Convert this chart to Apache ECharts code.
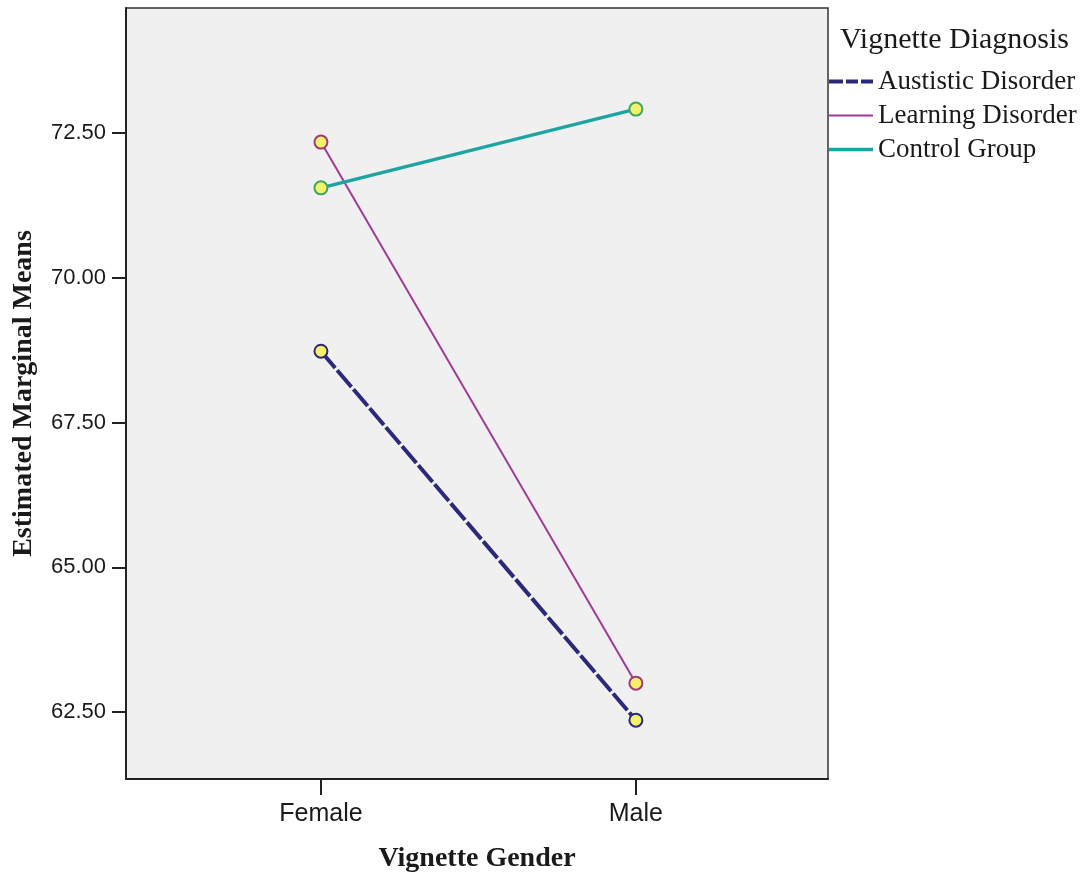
<!DOCTYPE html>
<html>
<head>
<meta charset="utf-8">
<script src="https://cdn.jsdelivr.net/npm/echarts@6/dist/echarts.min.js"></script>
<style>
html,body{margin:0;padding:0;background:#fff;}
#chart{width:1086px;height:878px;}
</style>
</head>
<body>
<div id="chart"></div>
<script>
const categories = ['Female', 'Male'];
const seriesNames = ['Austistic Disorder', 'Learning Disorder', 'Control Group'];
const autisticValues = [68.73, 62.36];
const learningValues = [72.34, 63.00];
const controlValues = [71.55, 72.91];
const yTickValues = [62.5, 65.0, 67.5, 70.0, 72.5];

const toPoints = vals => vals.map((v, i) => [i + 1, v]);

const chart = echarts.init(document.getElementById('chart'));
const serifFont = "'Liberation Serif', 'Times New Roman', serif";
const sansFont = "'Liberation Sans', Arial, sans-serif";

const colAut = '#2b2a7a', colLrn = '#a23a95', colCtl = '#1ba5a1';

const option = {
  animation: false,
  backgroundColor: '#ffffff',
  title: {
    text: 'Vignette Diagnosis',
    left: 835,
    top: 20,
    textStyle: { fontFamily: serifFont, fontWeight: 'normal', fontSize: 30, color: '#1a1a1a' }
  },
  legend: {
    orient: 'vertical',
    left: 829,
    top: 68,
    padding: 0,
    itemWidth: 44,
    itemHeight: 22,
    itemGap: 7,
    textStyle: { fontFamily: serifFont, fontSize: 27, color: '#1a1a1a' },
    data: [
      { name: seriesNames[0], icon: 'path://M0,0h14v4h-14zM17,0h12v4h-12zM32,0h12v4h-12z',
        itemStyle: { color: colAut, borderWidth: 0 } },
      { name: seriesNames[1], icon: 'path://M0,0h44v2h-44z',
        itemStyle: { color: colLrn, borderWidth: 0 } },
      { name: seriesNames[2], icon: 'path://M0,0h44v3.5h-44z',
        itemStyle: { color: colCtl, borderWidth: 0 } }
    ]
  },
  grid: {
    left: 126,
    top: 8,
    width: 702,
    height: 772,
    show: true,
    backgroundColor: '#f0f0f0',
    borderColor: '#333333',
    borderWidth: 1.5
  },
  xAxis: {
    type: 'value',
    min: 0.381,
    max: 2.61,
    name: 'Vignette Gender',
    nameLocation: 'middle',
    nameGap: 66,
    nameTextStyle: { fontFamily: serifFont, fontWeight: 'bold', fontSize: 28, color: '#1a1a1a' },
    splitLine: { show: false },
    axisLine: { show: true, onZero: false, lineStyle: { color: '#222', width: 2 } },
    axisTick: { show: true, length: 16, customValues: [1, 2], lineStyle: { color: '#222', width: 2 } },
    axisLabel: {
      customValues: [1, 2],
      margin: 23,
      fontFamily: sansFont,
      fontSize: 25,
      color: '#1a1a1a',
      formatter: v => categories[Math.round(v) - 1] || ''
    }
  },
  yAxis: {
    type: 'value',
    min: 61.345,
    max: 74.655,
    name: 'Estimated Marginal Means',
    nameLocation: 'middle',
    nameGap: 88,
    nameTextStyle: { fontFamily: serifFont, fontWeight: 'bold', fontSize: 28, color: '#1a1a1a' },
    splitLine: { show: false },
    axisLine: { show: true, onZero: false, lineStyle: { color: '#222', width: 2 } },
    axisTick: { show: true, length: 14, customValues: yTickValues, lineStyle: { color: '#222', width: 2 } },
    axisLabel: {
      customValues: yTickValues,
      margin: 20,
      fontFamily: sansFont,
      fontSize: 22,
      color: '#1a1a1a',
      formatter: v => v.toFixed(2)
    }
  },
  series: [
    {
      name: seriesNames[0],
      type: 'line',
      data: toPoints(autisticValues),
      symbol: 'circle',
      symbolSize: 13,
      color: colAut,
      lineStyle: { color: colAut, width: 4, type: [22, 3] },
      itemStyle: { color: '#f6f16a', borderColor: colAut, borderWidth: 2 },
      z: 3
    },
    {
      name: seriesNames[1],
      type: 'line',
      data: toPoints(learningValues),
      symbol: 'circle',
      symbolSize: 13,
      color: colLrn,
      lineStyle: { color: colLrn, width: 2 },
      itemStyle: { color: '#f6f16a', borderColor: '#a23a7a', borderWidth: 2 },
      z: 4
    },
    {
      name: seriesNames[2],
      type: 'line',
      data: toPoints(controlValues),
      symbol: 'circle',
      symbolSize: 13,
      color: colCtl,
      lineStyle: { color: colCtl, width: 3.5 },
      itemStyle: { color: '#f6f16a', borderColor: '#3aa860', borderWidth: 2 },
      z: 5
    }
  ]
};
chart.setOption(option);
</script>
</body>
</html>
